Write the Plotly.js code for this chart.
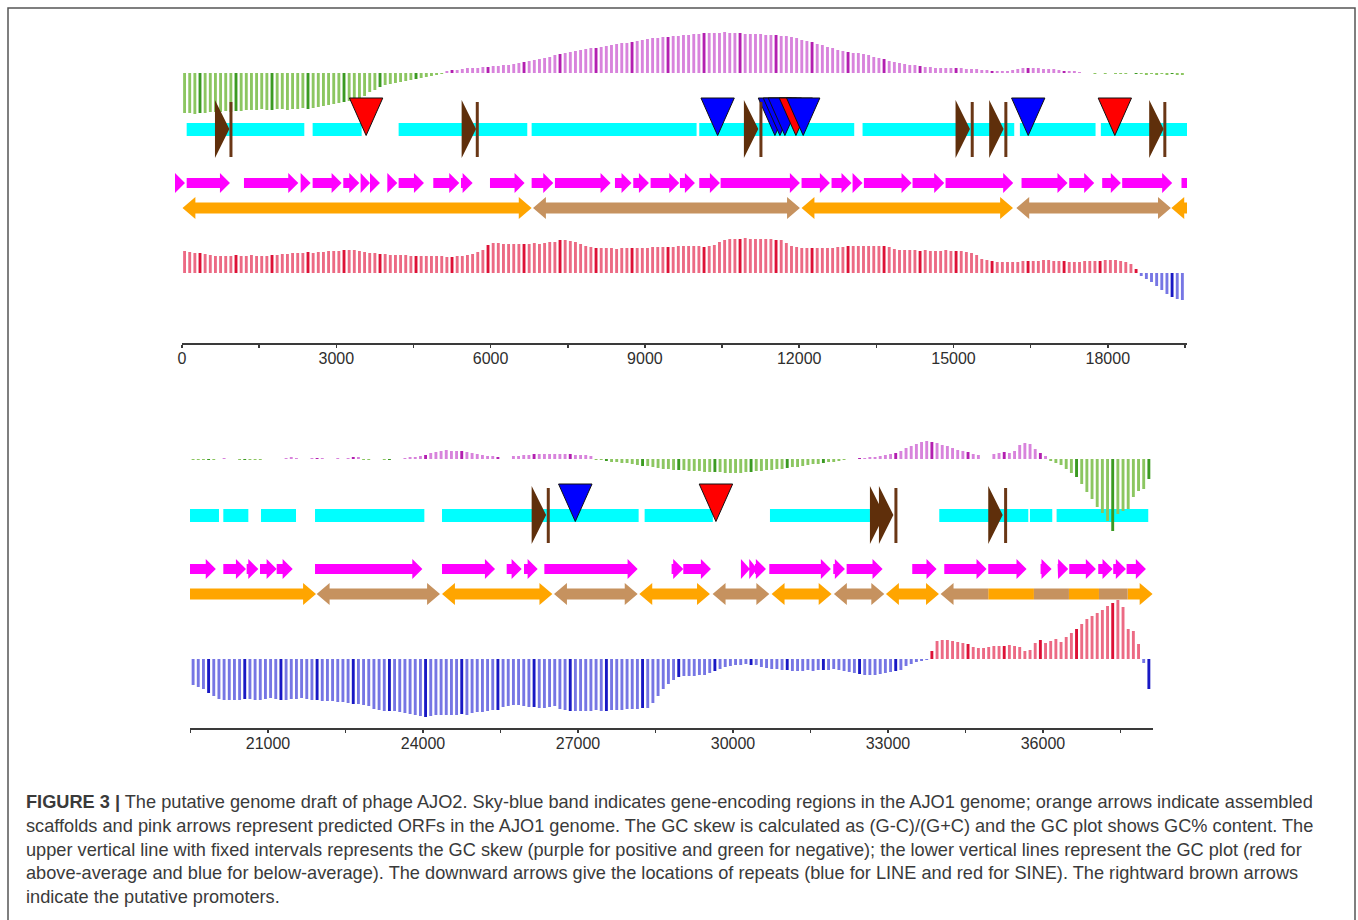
<!DOCTYPE html>
<html>
<head>
<meta charset="utf-8">
<script src="https://cdn.plot.ly/plotly-3.0.1.min.js"></script>
<style>
html,body{margin:0;padding:0;background:#fff;overflow:hidden;}
#chart{width:1358px;height:920px;}
</style>
</head>
<body>
<div id="chart"></div>
<script>
// ---------------- DATA ----------------
const binSize = 100;
const upperStart = 0;
const lowerStart = 19500;

// GC skew per 100-bp window (relative units; + = purple, - = green)
const skewUpper = [
-40,-40,-41,-40,-40,-39, -39,-39,-38,-39,-38,-38, -37,-37,-37,-36,-37,-37,
-36,-36,-37,-36,-36,-35,-36,-35,-34, -33,-32,-31,-30, -29,-28,-27,-25,-23,
-19,-17,-14,-12, -11,-10,-9,-8,-7, -6,-5,-4,-3,-2, -1,
2,3,3,4,5, 5,5,6,6,7,7, 8,8,9,10,11,12,13, 14,15,16,18,19,20,
21,22,23,24,25,25,26, 27,28,29,30,30,31, 32,33,34,35,35,36,36, 37,37,38,38,39,
39,40,40,40,40,41,40,40,40,39, 39,39,39,38,38,38, 37,37,36,35,
33,32,31,29,28,26, 25,23,22,21,20,20,19, 18,16,15,14,12,11, 10,9,8,8,7,6,
6,5,5,5,5,5,5, 4,4,4,3,3,2, 2,2,2,3,4,5, 5,5,5,4,4,4, 3,2,2,2,1, 0,0,
-1,0,-1,0,-1,-1,-1,0,-1,-1,-2,-1,-2,-1,-2,-1,-2,-2
];
const skewLower = [
-1,-1,-1,-1,-1,0, 1,0,0, -1,-1,-1,-1,-1,0, 0,0,0, 1,2,1, 0,0, 1,1,1,0, 0,1,0,
1,2,2, -1,-1, 0,0, -1,-1,0,0, 1,2,2,3,4, 6,7,8,9, 8,8,8,7,6,5, 4,3,3,2, 0,0,
3,3,4,4,5,5,5,5,5,5,5,5,4,4,4,3, -1,-1,-2,-3,
-3,-4,-4,-5,-6,-7,-7,-8,-9,-10,-10,-11,-11, -11,-12,-12,-12,-13,-13,-13,-13,-14,-14,-14,
-14,-13,-13,-12,-12,-11,-11,-10,-10,-9, -8,-8,-7,-6,-5,-5, -4,-3,-3,-2,-1, 0,0,
1,1,2,2, 3,4,5,6,8, 11,13,15,17,18, 17,16,14,13,11, 9,8,7,5,4, 0,0,
5,6,7,6,8, 14,16,15, 10,6, 3,-2,-4, -6,-10,-14,-18, -25,-33, -40,-48,
-54,-62,-72, -55,-52,-50, -38,-32, -30,-20
];

// GC content deviation per 100-bp window (+ = above average red, - = below average blue)
const gcUpper = [
22,21,20,20,19,18,17,17, 17,17,18,17,17,18,17,17,17, 18,18,19,19,20,20,
20,21,20,21,21,22,22, 22,23,23,23,22, 21,20,20,19,19,18,18,18, 18,17,17,17,17,17,17,
17,16,16,17,17, 18,19,21,23, 28,30,30,29, 29,29,29,29,29,30,29, 30,31,31,33,33,32,
31,29,27,26, 25,25,25,25,24,25,25,25,25,25,25,26,26,26,26,26,27,
27,27,27,27,26,27,28, 31,33, 34,34,34,35,34,34,34,34,34,33,33, 30,27,
26,25,25,25,25,25,25,25,26,26, 27,27,27,27,27,27,27,27,26, 24,23,23,23,23,22,23,
22,22,22,23,22,22,22,21,20,18, 14,13,12,
11,11,11,11,11,12,12,12,12,13,13,12,12,12,11,11,11,12,12,12,12,13,13,13,12,11,9,
4, -3,-6,-9,-13,-17,-21,-24,-26,-27
];
const gcLower = [
-26,-28,-30,-34,-37, -40,-41,-41,-41,-41, -40,-40,-41,-41,-40,
-39,-40,-41,-41,-40,-40,-39,-40,-41,-41, -42,-42,-42,-43,-43, -44,-45,-45,-46,-47,
-50,-51,-52,-52,-52, -53,-54,-55,-56,-57, -58,-57, -56,-56,-56,-56,-56,-55,-56,
-54,-53,-53,-52,-51,-51, -48,-47,-46, -46,-47,-48,-48,-49,-49,-48,-47,
-50,-51,-52,-52,-52,-52,-52,-51,-52,-52,-51, -51,-51,-50,-50,-50,-49,-49,
-44,-37,-30,-25, -21,-18, -17,-17,-17,-16,-16,-14, -12,-10,-8,-7, -6,-6,-5,-6,-6,
-8,-9,-10,-10, -11,-11,-12,-12,-12,-11,-12,-11, -11,-11,-10,-11,
-12,-13,-14,-15,-16,-16,-16,-15, -14,-13,-12,-11, -7,-5,-3,-2, -1,
8, 18,19,19,18, 17,16,15, 12,11,11, 12,13,13,13,14,13,12, 8,9, 16,19,
16,18,20,17,22, 26,30,35, 40,43,46,49,53,56,59, 52,30,28,15, -4,-30
];

// Gene-encoding regions (sky-blue band), bp
const geneStart = [91, 2540, 4212, 6798, 10057, 13232, 16291, 17865, 20135, 20864, 21910, 24368, 28290, 30716, 33993, 35748, 36264];
const geneEnd   = [2378, 3493, 6713, 10005, 13070, 16181, 17762, 20051, 20619, 21542, 24026, 28174, 29610, 32651, 35716, 36180, 38038];

// Predicted ORFs (pink arrows), bp
const orfStart = [-136, 91, 1205, 2307, 2540, 3136, 3473, 3655, 3992, 4212, 4886, 5424, 5988, 6798, 7251, 8418, 8774, 9111, 9681,
  10057, 10472, 12046, 12629, 13038, 13258, 14204, 14846, 16323, 17250, 17891, 18280, 19433,
  20135, 20587, 20845, 21168, 21910, 24368, 25620, 25955, 26349, 28812, 29038, 30154, 30315, 30425, 30703, 31941, 32200,
  33470, 34090, 34941, 35954, 36283, 36509, 37070, 37360, 37619];
const orfEnd = [58, 933, 2261, 2501, 3104, 3447, 3655, 3849, 4186, 4705, 5391, 5651, 6661, 7219, 8333, 8741, 9079, 9668, 9973,
  10459, 12014, 12597, 13018, 13232, 14185, 14820, 16161, 17217, 17736, 18254, 19252, 19990,
  20574, 20813, 21168, 21478, 23988, 25394, 25910, 26220, 28155, 29038, 29574, 30328, 30470, 30638, 31896, 32167, 32896,
  33941, 34909, 35683, 36167, 36489, 37025, 37348, 37606, 37993];

// Assembled scaffolds (double-headed arrows), bp
const scaffoldStart = [10, 6825, 12046, 16222, 19236, 21942, 24368, 26536, 28187, 29606, 30748, 31954, 32961, 34019, 34941, 35825, 36503, 37084, 37639];
const scaffoldEnd   = [6798, 12014, 16157, 19226, 21929, 24329, 26504, 28155, 29554, 30703, 31909, 32928, 33987, 34941, 35825, 36503, 37084, 37639, 38122];
const scaffoldKind  = ['A','B','A','B','A','B','A','B','A','B','A','B','A','B','A','B','A','B','A'];
const scaffoldHeads = ['both','both','both','both','both','both','both','both','both','both','both','both','both','left','none','none','none','none','right'];

// Repeats (downward arrows): LINE = blue, SINE = red
const repeatPos  = [3580, 10414, 11528, 11625, 11722, 11936, 12078, 16453, 18137, 26948, 29670];
const repeatType = ['SINE','LINE','LINE','LINE','LINE','SINE','LINE','LINE','SINE','LINE','SINE'];

// Putative promoters (rightward brown arrows) and their terminal bars, bp
const promoterPos    = [641, 5437, 10925, 15040, 15694, 18805, 26103, 32651, 32825, 34941];
const promoterBarPos = [952, 5741, 11256, 15364, 16018, 19109, 26425, 33154, 35277];

// Axis ticks
const tickUpperVals = [0,1500,3000,4500,6000,7500,9000,10500,12000,13500,15000,16500,18000,19500];
const tickUpperText = ['0','','3000','','6000','','9000','','12000','','15000','','18000',''];
const tickLowerVals = [19500,21000,22500,24000,25500,27000,28500,30000,31500,33000,34500,36000,37500];
const tickLowerText = ['','21000','','24000','','27000','','30000','','33000','','36000',''];

const captionLines = [
  '<b>FIGURE 3 |</b> The putative genome draft of phage AJO2. Sky-blue band indicates gene-encoding regions in the AJO1 genome; orange arrows indicate assembled',
  'scaffolds and pink arrows represent predicted ORFs in the AJO1 genome. The GC skew is calculated as (G-C)/(G+C) and the GC plot shows GC% content. The',
  'upper vertical line with fixed intervals represents the GC skew (purple for positive and green for negative); the lower vertical lines represent the GC plot (red for',
  'above-average and blue for below-average). The downward arrows give the locations of repeats (blue for LINE and red for SINE). The rightward brown arrows',
  'indicate the putative promoters.'
];

// ---------------- STYLE / HELPERS ----------------
const W = 1358, H = 920;
const px = v => v / W;
const py = r => 1 - r / H;

const COL = {
  skewPos: '#d883dc', skewPosDark: '#b31fb0',
  skewNeg: '#8cc661', skewNegDark: '#3b9a22',
  gcPos: '#ec6a84', gcPosDark: '#dd1136',
  gcNeg: '#7676e4', gcNegDark: '#1818c4',
  gene: '#00ffff', orf: '#ff00ff',
  scafA: '#ffa500', scafB: '#c6925f',
  LINE: '#0000ff', SINE: '#ff0000',
  prom: '#5f2f0b', promBar: '#6a3716'
};

function barTrace(vals, start, xa, ya, pos, posD, neg, negD) {
  const x = vals.map((v, i) => start + binSize * i + binSize / 2);
  const colors = vals.map((v, i) => {
    const dark = (i % 7 === 3);
    return v >= 0 ? (dark ? posD : pos) : (dark ? negD : neg);
  });
  return {
    type: 'bar', x: x, y: vals, width: 56, xaxis: xa, yaxis: ya,
    marker: {color: colors, line: {width: 0}}, hoverinfo: 'skip', showlegend: false
  };
}

function polyTrace(xs, ys, xa, ya, fill, lineColor, lineWidth) {
  return {
    type: 'scatter', mode: 'lines', x: xs, y: ys, xaxis: xa, yaxis: ya,
    fill: 'toself', fillcolor: fill,
    line: {color: lineColor || fill, width: lineWidth || 0},
    hoverinfo: 'skip', showlegend: false
  };
}

function featureTraces(xa, ya) {
  const traces = [];
  // genes
  let gx = [], gy = [];
  const gTop = 123, gBot = 136;
  geneStart.forEach((s, i) => {
    const e = geneEnd[i];
    gx.push(s, e, e, s, s, null); gy.push(gTop, gTop, gBot, gBot, gTop, null);
  });
  traces.push(polyTrace(gx, gy, xa, ya, COL.gene));

  // ORFs
  let ox = [], oy = [];
  const oc = 183, ob = 5, oh = 10, oHead = 195;
  orfStart.forEach((s, i) => {
    const e = orfEnd[i], len = e - s;
    if (len <= oHead) {
      ox.push(s, e, s, s, null); oy.push(oc - oh, oc, oc + oh, oc - oh, null);
    } else {
      const m = e - oHead;
      ox.push(s, m, m, e, m, m, s, s, null);
      oy.push(oc - ob, oc - ob, oc - oh, oc, oc + oh, oc + ob, oc + ob, oc - ob, null);
    }
  });
  traces.push(polyTrace(ox, oy, xa, ya, COL.orf));

  // scaffolds
  const sc = 208, sb = 5.5, sh = 11, sHead = 250;
  ['A', 'B'].forEach(kind => {
    let sx = [], sy = [];
    scaffoldStart.forEach((s, i) => {
      if (scaffoldKind[i] !== kind) return;
      const e = scaffoldEnd[i], hd = scaffoldHeads[i];
      const L = (hd === 'both' || hd === 'left');
      const R = (hd === 'both' || hd === 'right');
      const pts = [];
      if (L) { pts.push([s, sc], [s + sHead, sc - sh], [s + sHead, sc - sb]); }
      else { pts.push([s, sc - sb]); }
      if (R) { pts.push([e - sHead, sc - sb], [e - sHead, sc - sh], [e, sc], [e - sHead, sc + sh], [e - sHead, sc + sb]); }
      else { pts.push([e, sc - sb], [e, sc + sb]); }
      if (L) { pts.push([s + sHead, sc + sb], [s + sHead, sc + sh], [s, sc]); }
      else { pts.push([s, sc + sb], [s, sc - sb]); }
      pts.forEach(p => { sx.push(p[0]); sy.push(p[1]); });
      sx.push(null); sy.push(null);
    });
    traces.push(polyTrace(sx, sy, xa, ya, kind === 'A' ? COL.scafA : COL.scafB));
  });

  // repeats (each separately to keep drawing order)
  const rTop = 98, rTip = 135.5, rHalf = 324;
  repeatPos.forEach((p, i) => {
    traces.push(polyTrace([p - rHalf, p + rHalf, p, p - rHalf], [rTop, rTop, rTip, rTop],
      xa, ya, COL[repeatType[i]], '#111', 1));
  });

  // promoters
  let px_ = [], py_ = [];
  const pTop = 100, pBot = 158, pMid = 129, pW = 280;
  promoterPos.forEach(p => {
    px_.push(p, p + pW, p, p, null); py_.push(pTop, pMid, pBot, pTop, null);
  });
  traces.push(polyTrace(px_, py_, xa, ya, COL.prom));
  let bx = [], by = [];
  promoterBarPos.forEach(b => { bx.push(b, b, null); by.push(102, 157, null); });
  traces.push({type: 'scatter', mode: 'lines', x: bx, y: by, xaxis: xa, yaxis: ya,
    line: {color: COL.promBar, width: 3}, hoverinfo: 'skip', showlegend: false});
  return traces;
}

// ---------------- TRACES (drawing order matters) ----------------
const data = [];
data.push(barTrace(skewUpper, upperStart, 'x', 'y', COL.skewPos, COL.skewPosDark, COL.skewNeg, COL.skewNegDark));
data.push(barTrace(gcUpper, upperStart, 'x', 'y3', COL.gcPos, COL.gcPosDark, COL.gcNeg, COL.gcNegDark));
featureTraces('x2', 'y4').forEach(t => data.push(t));
data.push(barTrace(gcLower, lowerStart, 'x2', 'y5', COL.gcPos, COL.gcPosDark, COL.gcNeg, COL.gcNegDark));
data.push(barTrace(skewLower, lowerStart, 'x2', 'y6', COL.skewPos, COL.skewPosDark, COL.skewNeg, COL.skewNegDark));
featureTraces('x3', 'y2').forEach(t => data.push(t));

const hidden = {visible: false, showgrid: false, zeroline: false, fixedrange: true};
const tickFont = {family: 'Liberation Sans, Arial, sans-serif', size: 16, color: '#2e2e2e'};
const shownX = {
  showgrid: false, zeroline: false, showline: true, linecolor: '#3a3a3a', linewidth: 2,
  ticks: 'outside', ticklen: 3, tickwidth: 1.5, tickcolor: '#3a3a3a',
  tickfont: tickFont, tickmode: 'array', anchor: 'free', fixedrange: true,
  ticklabelstandoff: -3
};

const layout = {
  width: W, height: H,
  margin: {l: 0, r: 0, t: 0, b: 0, pad: 0},
  paper_bgcolor: '#ffffff', plot_bgcolor: 'rgba(0,0,0,0)',
  showlegend: false, barmode: 'overlay',
  xaxis: Object.assign({}, shownX, {domain: [px(182), px(1187)], range: [0, 19540],
    tickvals: tickUpperVals, ticktext: tickUpperText, position: py(344)}),
  xaxis2: Object.assign({}, shownX, {domain: [px(190), px(1153)], range: [19490, 38130],
    tickvals: tickLowerVals, ticktext: tickLowerText, position: py(729)}),
  xaxis3: Object.assign({}, hidden, {domain: [px(174), px(1187)], range: [-155.5, 19540]}),
  yaxis: Object.assign({}, hidden, {domain: [py(121), py(25)], range: [-48, 48], anchor: 'x'}),
  yaxis2: Object.assign({}, hidden, {domain: [py(230), py(90)], range: [230, 90], anchor: 'x3'}),
  yaxis3: Object.assign({}, hidden, {domain: [py(313), py(233)], range: [-40, 40], anchor: 'x'}),
  yaxis4: Object.assign({}, hidden, {domain: [py(616), py(476)], range: [230, 90], anchor: 'x2'}),
  yaxis5: Object.assign({}, hidden, {domain: [py(719), py(599)], range: [-60, 60], anchor: 'x2'}),
  yaxis6: Object.assign({}, hidden, {domain: [py(535), py(383)], range: [-76, 76], anchor: 'x2'}),
  shapes: [{
    type: 'rect', xref: 'paper', yref: 'paper',
    x0: px(8), x1: px(1355), y0: py(940), y1: py(8),
    line: {color: '#555', width: 1.5}, fillcolor: 'rgba(0,0,0,0)', layer: 'below'
  }],
  annotations: captionLines.map((t, i) => ({
    text: t, xref: 'paper', yref: 'paper', x: px(24), y: py(802 + 23.8 * i),
    xanchor: 'left', yanchor: 'middle', showarrow: false, align: 'left',
    font: {family: 'Liberation Sans, Arial, sans-serif', size: 18.2, color: '#3a3a3a'}
  }))
};

Plotly.newPlot('chart', data, layout, {staticPlot: true, displayModeBar: false});
</script>
</body>
</html>
